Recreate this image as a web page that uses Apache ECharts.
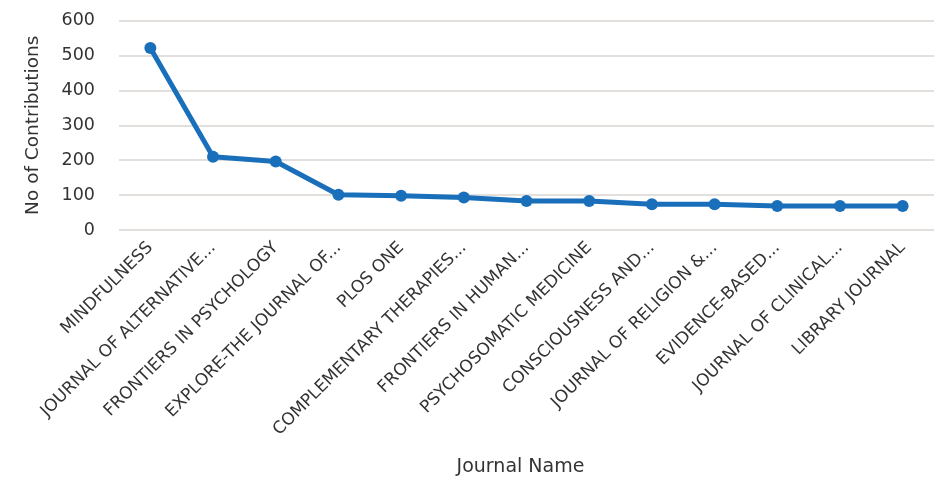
<!DOCTYPE html>
<html lang="en">
<head>
   <meta charset="UTF-8">
   <script src="https://cdn.jsdelivr.net/npm/echarts@6/dist/echarts.min.js"></script>
   <title>Journal contributions</title>
   <style>
      html, body { margin: 0; padding: 0; background: #fff; }
      #container { width: 940px; height: 479px; }
   </style>
</head>
<body>
   <div id="container"></div>
   <script>
      // journals, in the order shown
      var journals = [
         'MINDFULNESS',
         'JOURNAL OF ALTERNATIVE...',
         'FRONTIERS IN PSYCHOLOGY',
         'EXPLORE-THE JOURNAL OF...',
         'PLOS ONE',
         'COMPLEMENTARY THERAPIES...',
         'FRONTIERS IN HUMAN...',
         'PSYCHOSOMATIC MEDICINE',
         'CONSCIOUSNESS AND...',
         'JOURNAL OF RELIGION &...',
         'EVIDENCE-BASED...',
         'JOURNAL OF CLINICAL...',
         'LIBRARY JOURNAL'
      ];
      // no of contributions
      var contributions = [521, 210, 196, 101, 98, 93, 83, 83, 74, 74, 69, 69, 69];

      var textColor = '#333333';
      var font = 'DejaVu Sans';

      var myChart = echarts.init(document.getElementById('container'));

      var option = {
         animation: false,
         grid: {
            left: 119,
            right: 6,
            top: 20.5,
            bottom: 249
         },
         xAxis: {
            type: 'category',
            data: journals,
            name: 'Journal Name',
            nameLocation: 'middle',
            nameGap: 228,
            nameTextStyle: { color: textColor, fontSize: 19, fontFamily: font, padding: [0, 12, 0, 0] },
            axisLine: { show: false },
            axisTick: { show: false },
            axisLabel: {
               rotate: 45,
               interval: 0,
               margin: 15,
               color: textColor,
               fontSize: 17,
               fontFamily: font
            }
         },
         yAxis: {
            type: 'value',
            min: 0,
            max: 600,
            interval: 100,
            name: 'No of Contributions',
            nameLocation: 'middle',
            nameGap: 76,
            nameTextStyle: { color: textColor, fontSize: 18.5, fontFamily: font },
            axisLine: { show: false },
            axisTick: { show: false },
            axisLabel: {
               margin: 24,
               color: textColor,
               fontSize: 17.5,
               fontFamily: font
            },
            splitLine: { lineStyle: { color: '#d9d4d0', width: 1.5 } }
         },
         series: [{
            type: 'line',
            data: contributions,
            symbol: 'circle',
            symbolSize: 12,
            lineStyle: { color: '#1a6fba', width: 5 },
            itemStyle: { color: '#1a6fba' }
         }]
      };

      myChart.setOption(option);
   </script>
</body>
</html>
